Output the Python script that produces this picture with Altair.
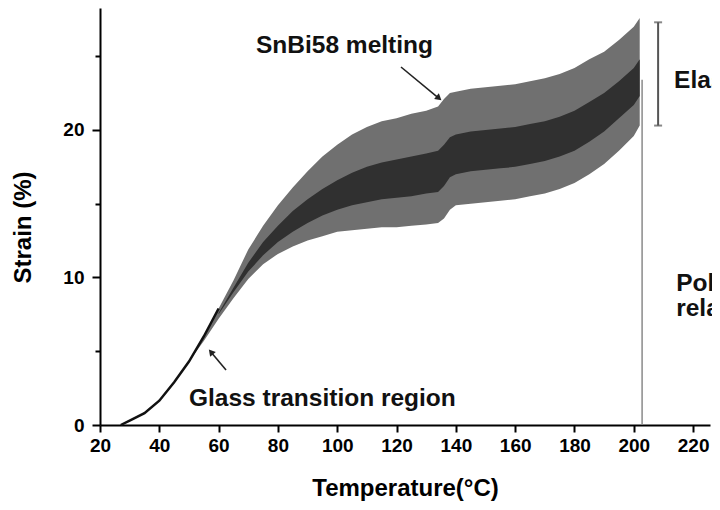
import altair as alt
import pandas as pd

# ---- data ----
temp = [27, 30, 35, 40, 45, 50, 55, 60, 65, 70, 75, 80, 85, 90, 95, 100, 105, 110, 115, 120,
        125, 130, 134, 136, 138, 140, 145, 150, 155, 160, 165, 170, 175, 180, 185, 190, 195, 200, 202]
strain_upper = [0, 0.3, 0.8, 1.65, 2.9, 4.3, 6.0, 7.9, 9.8, 11.9, 13.5, 14.9, 16.1, 17.2, 18.2, 19.0,
                19.7, 20.2, 20.6, 20.8, 21.1, 21.3, 21.6, 22.1, 22.5, 22.6, 22.8, 22.9, 23.0, 23.1,
                23.3, 23.5, 23.8, 24.2, 24.8, 25.3, 26.1, 27.0, 27.6]
strain_lower = [0, 0.3, 0.8, 1.65, 2.9, 4.3, 5.7, 7.2, 8.6, 9.9, 10.9, 11.6, 12.1, 12.5, 12.8, 13.1,
                13.2, 13.3, 13.4, 13.4, 13.5, 13.6, 13.7, 14.0, 14.6, 14.9, 15.0, 15.1, 15.2, 15.3,
                15.5, 15.7, 16.0, 16.4, 17.0, 17.7, 18.6, 19.6, 20.3]

temp_core = [60, 65, 70, 75, 80, 85, 90, 95, 100, 105, 110, 115, 120, 125, 130, 134, 136, 138, 140,
             145, 150, 155, 160, 165, 170, 175, 180, 185, 190, 195, 200, 202]
core_upper = [7.6, 9.3, 11.0, 12.4, 13.5, 14.5, 15.3, 16.0, 16.6, 17.1, 17.5, 17.8, 18.0, 18.2, 18.4,
              18.6, 19.0, 19.5, 19.7, 19.9, 20.0, 20.1, 20.2, 20.4, 20.6, 20.9, 21.3, 21.9, 22.5,
              23.3, 24.2, 24.8]
core_lower = [7.5, 9.0, 10.4, 11.5, 12.4, 13.1, 13.7, 14.2, 14.6, 14.9, 15.1, 15.3, 15.4, 15.5, 15.7,
              15.8, 16.2, 16.8, 17.0, 17.2, 17.3, 17.4, 17.5, 17.7, 17.9, 18.2, 18.6, 19.2, 19.9,
              20.8, 21.7, 22.3]

x_ticks = [20, 30, 40, 50, 60, 70, 80, 90, 100, 110, 120, 130, 140, 150, 160, 170, 180, 190, 200, 210, 220]
y_ticks = [0, 5, 10, 15, 20, 25]

labels = ["SnBi58 melting", "Glass transition region", "Elastic deformation", "Polymer", "relaxation"]
label_t = [72.6, 50.0, 213.6, 214.3, 214.3]
label_s = [25.2, 1.29, 22.85, 9.1, 7.4]

arrow_id = ["melt", "melt", "glass", "glass"]
arrow_t = [121.5, 134.3, 62.5, 57.4]
arrow_s = [24.27, 22.15, 3.73, 4.95]
head_t = [134.3, 57.4]
head_s = [22.15, 4.95]
head_angle = [129.5, 319.6]

end_line_t = [202.8]
end_line_s = [0, 23.4]
bracket_t = [208.2]
bracket_s = [20.3, 27.3]

FONT = "Liberation Sans"
XDOM = [20, 225.7]
YDOM = [0, 28.27]

band = pd.DataFrame({"T": temp, "U": strain_upper, "L": strain_lower})
core = pd.DataFrame({"T": temp_core, "U": core_upper, "L": core_lower})
texts = pd.DataFrame({"label": labels, "T": label_t, "S": label_s})
arrows = pd.DataFrame({"id": arrow_id, "T": arrow_t, "S": arrow_s, "o": list(range(len(arrow_t)))})
heads = pd.DataFrame({"T": head_t, "S": head_s, "a": head_angle})
vline = pd.DataFrame({"T": end_line_t * 2, "S": end_line_s})
brk = pd.DataFrame({"T": bracket_t * 2, "S": bracket_s})

xscale = alt.Scale(domain=XDOM, nice=False, zero=False)
yscale = alt.Scale(domain=YDOM, nice=False, zero=False)

xaxis = alt.Axis(
    values=x_ticks, format="d",
    labelExpr="datum.value % 20 === 0 ? datum.label : ''",
    tickSize={"condition": {"test": "datum.value % 20 !== 0", "value": 4}, "value": 7},
    title="Temperature(°C)", titleFont=FONT, titleFontSize=24, titleFontWeight="bold",
    titleColor="black", titleY=63, titleBaseline="middle",
    labelFont=FONT, labelFontSize=19, labelFontWeight="bold", labelColor="black",
    labelPadding=4, labelFlush=False, grid=False, domainColor="black", domainWidth=2,
    tickColor="black", tickWidth=2,
)
yaxis = alt.Axis(
    values=y_ticks, format="d",
    labelExpr="datum.value % 10 === 0 ? datum.label : ''",
    tickSize={"condition": {"test": "datum.value % 10 !== 0", "value": 5}, "value": 8},
    title="Strain (%)", titleFont=FONT, titleFontSize=24, titleFontWeight="bold",
    titleColor="black", titleX=-77, titleY=219, titleAngle=270, titleAlign="center",
    titleBaseline="middle",
    labelFont=FONT, labelFontSize=19, labelFontWeight="bold", labelColor="black",
    labelPadding=8, labelFlush=False, grid=False, domainColor="black", domainWidth=2,
    tickColor="black", tickWidth=2,
)

outer = alt.Chart(band).mark_area(color="#707070", opacity=1).encode(
    x=alt.X("T:Q", scale=xscale, axis=xaxis),
    y=alt.Y("L:Q", scale=yscale, axis=yaxis),
    y2="U:Q",
)
inner = alt.Chart(core).mark_area(color="#303030").encode(
    x=alt.X("T:Q", scale=xscale), y=alt.Y("L:Q", scale=yscale), y2="U:Q"
)
early = alt.Chart(band).transform_filter("datum.T <= 60").mark_line(
    color="#111111", strokeWidth=2.5
).encode(x=alt.X("T:Q", scale=xscale), y=alt.Y("U:Q", scale=yscale))

vl = alt.Chart(vline).mark_line(color="#8a8a8a", strokeWidth=1.5).encode(
    x=alt.X("T:Q", scale=xscale), y=alt.Y("S:Q", scale=yscale)
)
br = alt.Chart(brk).mark_line(color="#555555", strokeWidth=2).encode(
    x=alt.X("T:Q", scale=xscale), y=alt.Y("S:Q", scale=yscale)
)
caps = alt.Chart(brk).mark_tick(color="#555555", thickness=2, size=8, orient="horizontal").encode(
    x=alt.X("T:Q", scale=xscale), y=alt.Y("S:Q", scale=yscale)
)

arr = alt.Chart(arrows).mark_line(color="#222222", strokeWidth=1.6).encode(
    x=alt.X("T:Q", scale=xscale), y=alt.Y("S:Q", scale=yscale), detail="id:N", order="o:Q"
)
hd = alt.Chart(heads).mark_point(
    shape="triangle-up", filled=True, color="#222222", size=55, opacity=1
).encode(
    x=alt.X("T:Q", scale=xscale), y=alt.Y("S:Q", scale=yscale), angle=alt.Angle("a:Q", scale=None)
)

txt = alt.Chart(texts).mark_text(
    font=FONT, fontSize=24.5, fontWeight="bold", align="left", baseline="alphabetic", color="#111111"
).encode(x=alt.X("T:Q", scale=xscale), y=alt.Y("S:Q", scale=yscale), text="label:N")

chart = alt.layer(outer, inner, early, vl, br, caps, arr, hd, txt).properties(
    width=610, height=417,
    autosize=alt.AutoSizeParams(type="none"),
    padding={"left": 92, "top": 0, "right": 2, "bottom": 77},
    background="white",
).configure_view(stroke=None)

chart.save("out.html", embed_options={"renderer": "svg", "actions": False})
